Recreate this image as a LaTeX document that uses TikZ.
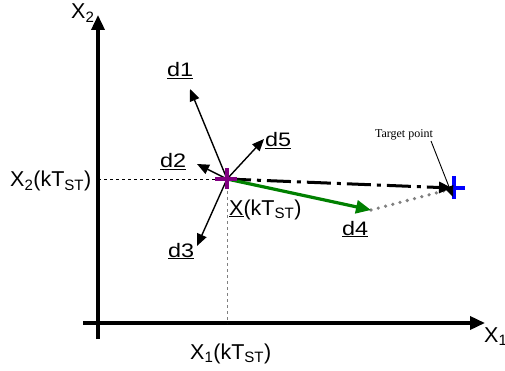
\documentclass[tikz,border=0pt]{standalone}
\usepackage{fontspec}
\setmainfont{Liberation Sans}
\newfontfamily\timesfont{Liberation Serif}
\usetikzlibrary{arrows.meta}
\newcommand{\dlab}[1]{\scalebox{1.2}[1]{\underline{#1}}}
\definecolor{crosspurple}{RGB}{128,0,128}
\definecolor{dotgray}{RGB}{128,128,128}
\begin{document}
\begin{tikzpicture}[x=1pt,y=-1pt,
  lbl/.style={inner sep=0pt,anchor=base west,font=\fontsize{21.5}{24}\selectfont},
  dl/.style={inner sep=0pt,anchor=base west,font=\fontsize{19.5}{22}\selectfont},
  axis/.style={line width=3.5pt,-{Triangle[length=15pt,width=13pt]}},
  dir/.style={line width=1.4pt,-{Triangle[length=12pt,width=10pt]}},
]
\useasboundingbox (0,0) rectangle (505,371);
\coordinate (ytop) at (98,15);
\coordinate (ybot) at (98,339);
\coordinate (xl) at (83,323);
\coordinate (xr) at (485,323);
\coordinate (P) at (227,179);
\coordinate (Px) at (98,179);
\coordinate (Py) at (227,323);
\coordinate (T) at (455,188);
\coordinate (d1t) at (190,89);
\coordinate (d2t) at (197,164);
\coordinate (d5t) at (264,139);
\coordinate (d3t) at (197,246);
\coordinate (d4t) at (371,210);
% axes
\draw[axis] (ybot) -- (ytop);
\draw[axis] (xl) -- (xr);
% projections
\draw[dashed,line width=0.8pt] (Px) -- (P);
\draw[dashed,gray,line width=0.9pt] (P) -- (Py);
% direction arrows
\draw[dir] (P) -- (d1t);
\draw[dir] (P) -- (d2t);
\draw[dir] (P) -- (d5t);
\draw[dir] (P) -- (d3t);
% grey dotted
\draw[dotgray,line width=3.6pt,line cap=round,dash pattern=on 0pt off 7.5pt] (d4t) -- (T);
% dash dot
\draw[line width=3pt,dash pattern=on 24pt off 6pt on 4pt off 6pt,-{Triangle[length=13pt,width=11pt]}] (P) -- ([xshift=-3pt]T);
% green
\draw[green!50!black,line width=3.2pt,-{Triangle[length=15pt,width=13pt]}] (P) -- (d4t);
% purple cross
\draw[crosspurple,line width=3.2pt] ([xshift=-12pt]P) -- ([xshift=10pt]P) ([yshift=-10pt]P) -- ([yshift=11pt]P);
% blue cross
\draw[blue,line width=3.2pt] ([xshift=-5pt]T) -- ([xshift=10pt]T) ([xshift=-1pt,yshift=-11pt]T) -- ([xshift=-1pt,yshift=12pt]T);
% target label
\node[inner sep=0pt,font=\timesfont\fontsize{12}{14}\selectfont] (tl) at (404,135) {Target point};
\coordinate (tla) at (431,141);
\draw[line width=0.9pt,-{Triangle[length=11pt,width=9pt]}] (tla) -- ([xshift=-2pt,yshift=-9pt]T);
% labels
\node[lbl] (lx2) at (71,19) {X\textsubscript{2}};
\node[lbl] (lx2k) at (10,187) {X\textsubscript{2}(kT\textsubscript{ST})};
\node[lbl] (lx1k) at (190,359) {X\textsubscript{1}(kT\textsubscript{ST})};
\node[lbl] (lx1) at (484,342) {X\textsubscript{1}};
\node[lbl] (lp) at (229,215) {\underline{X}(kT\textsubscript{ST})};
\node[dl] (ld1) at (167,77) {\dlab{d1}};
\node[dl] (ld2) at (160,168) {\dlab{d2}};
\node[dl] (ld5) at (265,147) {\dlab{d5}};
\node[dl] (ld3) at (168,257) {\dlab{d3}};
\node[dl] (ld4) at (342,235) {\dlab{d4}};
\end{tikzpicture}
\end{document}
